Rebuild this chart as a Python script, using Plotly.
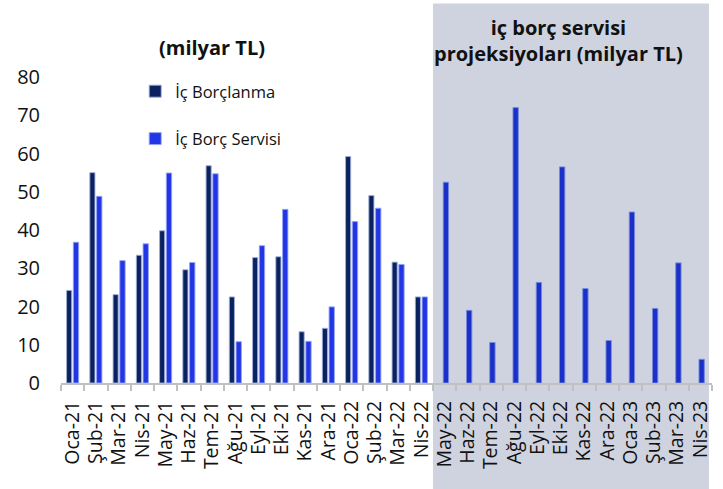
import plotly.graph_objects as go

months = ["Oca-21", "Şub-21", "Mar-21", "Nis-21", "May-21", "Haz-21", "Tem-21", "Ağu-21",
          "Eyl-21", "Eki-21", "Kas-21", "Ara-21", "Oca-22", "Şub-22", "Mar-22", "Nis-22",
          "May-22", "Haz-22", "Tem-22", "Ağu-22", "Eyl-22", "Eki-22", "Kas-22", "Ara-22",
          "Oca-23", "Şub-23", "Mar-23", "Nis-23"]
hist_months = months[:16]
proj_months = months[16:]

ic_borclanma = [24.2, 55.0, 23.1, 33.4, 39.8, 29.6, 56.8, 22.5,
                32.8, 33.0, 13.4, 14.3, 59.2, 49.0, 31.6, 22.5]
ic_borc_servisi = [36.8, 48.8, 32.0, 36.4, 54.9, 31.5, 54.7, 10.8,
                   35.9, 45.4, 10.9, 19.9, 42.2, 45.7, 31.0, 22.5]
servis_projeksiyon = [52.5, 19.0, 10.6, 72.0, 26.3, 56.5, 24.7, 11.1,
                      44.7, 19.5, 31.4, 6.2]

NAVY = "#0b2260"
BLUE = "#2236e6"
PROJ = "#1a30c8"
FONT = "Open Sans, Noto Sans, sans-serif"

fig = go.Figure()
fig.add_trace(go.Bar(
    x=hist_months, y=ic_borclanma, name="İç Borçlanma",
    marker=dict(color=NAVY, line=dict(color="rgba(160,175,215,0.9)", width=1)),
    width=0.22, offset=-0.26, legendgroup="a"))
fig.add_trace(go.Bar(
    x=hist_months, y=ic_borc_servisi, name="İç Borç Servisi",
    marker=dict(color=BLUE, line=dict(color="rgba(150,165,245,0.9)", width=1)),
    width=0.23, offset=0.03, legendgroup="b"))
fig.add_trace(go.Bar(
    x=proj_months, y=servis_projeksiyon, name="İç Borç Servisi (projeksiyon)",
    marker=dict(color=PROJ, line=dict(color="rgba(120,140,220,0.9)", width=1)),
    width=0.23, offset=-0.06, showlegend=False))

# shaded projection area
fig.add_shape(type="rect", xref="x", yref="paper",
              x0=15.5, x1=27.37, y0=-0.36, y1=1.24,
              fillcolor="#cfd3e0", line=dict(width=0), layer="below")

fig.add_annotation(text="<b>(milyar TL)</b>", xref="paper", yref="paper",
                   x=(212 - 61) / 651, y=(383 - 48) / 306, showarrow=False,
                   xanchor="center", yanchor="middle",
                   font=dict(size=20, color="#111111", family=FONT))
fig.add_annotation(text="<b>iç borç servisi<br>projeksiyoları (milyar TL)</b>",
                   xref="paper", yref="paper",
                   x=(558 - 61) / 651, y=(383 - 41) / 306, showarrow=False,
                   xanchor="center", yanchor="middle",
                   font=dict(size=20, color="#111111", family=FONT))

fig.update_layout(
    width=723, height=489,
    margin=dict(l=61, r=11, t=77, b=106),
    paper_bgcolor="white", plot_bgcolor="rgba(0,0,0,0)",
    barmode="overlay",
    font=dict(family=FONT, color="#111111"),
    showlegend=True,
    legend=dict(x=0.114, y=1.01, xanchor="left", yanchor="top",
                bgcolor="rgba(0,0,0,0)", font=dict(size=16.5, family=FONT),
                traceorder="grouped", tracegroupgap=23, itemwidth=30),
    xaxis=dict(type="category", categoryorder="array", categoryarray=months,
               range=[-0.5, 27.5], showline=True, linecolor="#c0c0c0", linewidth=2,
               tickmode="linear", tick0=0, dtick=1,
               ticks="outside", tickson="boundaries", ticklen=6, tickcolor="#c0c0c0",
               tickwidth=1.5, tickangle=-90, tickfont=dict(size=19.5, family=FONT),
               showgrid=False, zeroline=False, ticklabelstandoff=8, automargin=False),
    yaxis=dict(range=[0, 80], dtick=10, showgrid=False, zeroline=False, showline=False,
               tickfont=dict(size=20, family=FONT), ticklabelstandoff=20, automargin=False),
)

fig.write_html("out.html", config={"displayModeBar": False},
               post_script="document.body.style.margin='0px';")
